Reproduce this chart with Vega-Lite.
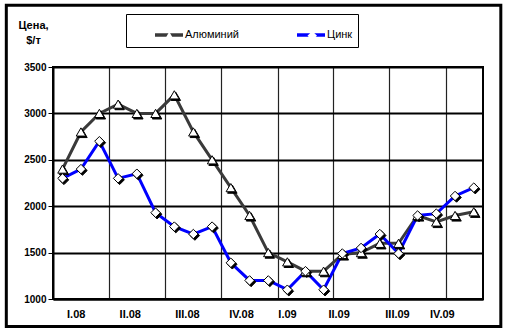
{
  "$schema": "https://vega.github.io/schema/vega-lite/v6.json",
  "width": 430,
  "height": 232,
  "autosize": {"type": "none"},
  "padding": {"left": 53, "top": 67, "right": 26, "bottom": 34},
  "background": "white",
  "config": {
    "font": "Liberation Sans",
    "view": {"stroke": "black", "strokeWidth": 2}
  },
  "data": {
    "values": [
      {"date": "2008-01-15", "metal": "Алюминий", "price": 2400},
      {"date": "2008-02-15", "metal": "Алюминий", "price": 2800},
      {"date": "2008-03-15", "metal": "Алюминий", "price": 3000},
      {"date": "2008-04-15", "metal": "Алюминий", "price": 3100},
      {"date": "2008-05-15", "metal": "Алюминий", "price": 3000},
      {"date": "2008-06-15", "metal": "Алюминий", "price": 3000},
      {"date": "2008-07-15", "metal": "Алюминий", "price": 3200},
      {"date": "2008-08-15", "metal": "Алюминий", "price": 2800},
      {"date": "2008-09-15", "metal": "Алюминий", "price": 2500},
      {"date": "2008-10-15", "metal": "Алюминий", "price": 2200},
      {"date": "2008-11-15", "metal": "Алюминий", "price": 1900},
      {"date": "2008-12-15", "metal": "Алюминий", "price": 1500},
      {"date": "2009-01-15", "metal": "Алюминий", "price": 1400},
      {"date": "2009-02-15", "metal": "Алюминий", "price": 1300},
      {"date": "2009-03-15", "metal": "Алюминий", "price": 1300},
      {"date": "2009-04-15", "metal": "Алюминий", "price": 1480},
      {"date": "2009-05-15", "metal": "Алюминий", "price": 1500},
      {"date": "2009-06-15", "metal": "Алюминий", "price": 1600},
      {"date": "2009-07-15", "metal": "Алюминий", "price": 1600},
      {"date": "2009-08-15", "metal": "Алюминий", "price": 1900},
      {"date": "2009-09-15", "metal": "Алюминий", "price": 1830},
      {"date": "2009-10-15", "metal": "Алюминий", "price": 1900},
      {"date": "2009-11-15", "metal": "Алюминий", "price": 1940},
      {"date": "2008-01-15", "metal": "Цинк", "price": 2300},
      {"date": "2008-02-15", "metal": "Цинк", "price": 2400},
      {"date": "2008-03-15", "metal": "Цинк", "price": 2700},
      {"date": "2008-04-15", "metal": "Цинк", "price": 2300},
      {"date": "2008-05-15", "metal": "Цинк", "price": 2350},
      {"date": "2008-06-15", "metal": "Цинк", "price": 1930},
      {"date": "2008-07-15", "metal": "Цинк", "price": 1780},
      {"date": "2008-08-15", "metal": "Цинк", "price": 1700},
      {"date": "2008-09-15", "metal": "Цинк", "price": 1780},
      {"date": "2008-10-15", "metal": "Цинк", "price": 1390},
      {"date": "2008-11-15", "metal": "Цинк", "price": 1200},
      {"date": "2008-12-15", "metal": "Цинк", "price": 1200},
      {"date": "2009-01-15", "metal": "Цинк", "price": 1100},
      {"date": "2009-02-15", "metal": "Цинк", "price": 1300},
      {"date": "2009-03-15", "metal": "Цинк", "price": 1100},
      {"date": "2009-04-15", "metal": "Цинк", "price": 1490},
      {"date": "2009-05-15", "metal": "Цинк", "price": 1550},
      {"date": "2009-06-15", "metal": "Цинк", "price": 1700},
      {"date": "2009-07-15", "metal": "Цинк", "price": 1490},
      {"date": "2009-08-15", "metal": "Цинк", "price": 1900},
      {"date": "2009-09-15", "metal": "Цинк", "price": 1920},
      {"date": "2009-10-15", "metal": "Цинк", "price": 2110},
      {"date": "2009-11-15", "metal": "Цинк", "price": 2200}
    ]
  },
  "layer": [
    {
      "data": {"values": [{}]},
      "mark": {"type": "rect", "filled": false, "stroke": "black", "strokeWidth": 3},
      "encoding": {
        "x": {"datum": {"year": 2007, "month": 10, "date": 17}, "type": "temporal", "axis": null},
        "x2": {"datum": {"year": 2009, "month": 12, "date": 30}},
        "y": {"datum": 704, "type": "quantitative", "axis": null},
        "y2": {"datum": 4165}
      }
    },
    {
      "mark": {"type": "line", "strokeWidth": 3},
      "encoding": {
        "x": {
          "field": "date", "type": "temporal", "timeUnit": "yearmonth", "bandPosition": 0.5,
          "scale": {"domain": [{"year": 2008, "month": 1, "date": 1}, {"year": 2009, "month": 12, "date": 1}]},
          "axis": {
            "orient": "bottom", "title": null, "labels": false, "ticks": false,
            "domain": true, "domainColor": "black", "domainWidth": 2,
            "grid": true, "gridColor": "#222222", "gridWidth": 1.2,
            "values": [
              {"year": 2008, "month": 4, "date": 1}, {"year": 2008, "month": 7, "date": 1},
              {"year": 2008, "month": 10, "date": 1}, {"year": 2009, "month": 1, "date": 1},
              {"year": 2009, "month": 4, "date": 1}, {"year": 2009, "month": 7, "date": 1},
              {"year": 2009, "month": 10, "date": 1}
            ]
          }
        },
        "y": {
          "field": "price", "type": "quantitative",
          "scale": {"domain": [1000, 3500], "nice": false, "zero": false},
          "axis": {
            "orient": "left", "format": "d",
            "title": ["Цена,", "$/т"], "titleAngle": 0, "titleAlign": "center", "titleBaseline": "alphabetic",
            "titleX": -20, "titleY": -39, "titleFontSize": 11, "titleFontWeight": "bold", "titleColor": "black",
            "titleLineHeight": 15, "titleFont": "Liberation Sans",
            "values": [1000, 1500, 2000, 2500, 3000, 3500],
            "grid": true, "gridColor": "black", "gridWidth": 2,
            "domainColor": "black", "domainWidth": 2,
            "tickColor": "black", "tickSize": 5, "tickWidth": 1,
            "labelFontSize": 10, "labelFontWeight": "bold", "labelColor": "black", "labelPadding": 2,
            "labelFont": "Liberation Sans"
          }
        },
        "color": {
          "field": "metal", "type": "nominal",
          "scale": {"domain": ["Алюминий", "Цинк"], "range": ["#3a3a3a", "#0000ff"]},
          "legend": {
            "title": null, "orient": "none", "legendX": 73, "legendY": -53, "direction": "horizontal",
            "strokeColor": "black", "padding": 5,
            "symbolType": "stroke", "symbolSize": 784, "symbolStrokeWidth": 3.5, "symbolOffset": 22, "labelOffset": 0,
            "columnPadding": 34, "labelFontSize": 11, "labelColor": "black", "labelFont": "Liberation Sans",
            "labelExpr": "datum.label == 'Цинк' ? datum.label + '\u00a0\u00a0\u00a0\u00a0\u00a0\u00a0\u00a0' : datum.label"
          }
        }
      }
    },
    {
      "transform": [{"filter": "datum.metal == 'Алюминий'"}],
      "mark": {"type": "point", "shape": "triangle-up", "filled": true, "fill": "black", "stroke": "black", "strokeWidth": 1, "opacity": 1, "xOffset": 1.5, "yOffset": 1.5, "size": 90},
      "encoding": {
        "x": {"field": "date", "type": "temporal", "timeUnit": "yearmonth", "bandPosition": 0.5, "axis": null},
        "y": {"field": "price", "type": "quantitative", "axis": null}
      }
    },
    {
      "transform": [{"filter": "datum.metal == 'Цинк'"}],
      "mark": {"type": "point", "shape": "diamond", "filled": true, "fill": "black", "stroke": "black", "strokeWidth": 1, "opacity": 1, "xOffset": 1.5, "yOffset": 1.5, "size": 90},
      "encoding": {
        "x": {"field": "date", "type": "temporal", "timeUnit": "yearmonth", "bandPosition": 0.5, "axis": null},
        "y": {"field": "price", "type": "quantitative", "axis": null}
      }
    },
    {
      "mark": {"type": "point", "filled": true, "fill": "white", "stroke": "black", "strokeWidth": 1, "opacity": 1},
      "encoding": {
        "x": {
          "field": "date", "type": "temporal", "timeUnit": "yearmonth", "bandPosition": 0.5,
          "axis": {
            "orient": "bottom", "title": null, "grid": false, "ticks": false, "domain": false,
            "labelFlush": false, "labelOverlap": false,
            "values": [
              {"year": 2008, "month": 2, "date": 7}, {"year": 2008, "month": 5, "date": 5},
              {"year": 2008, "month": 8, "date": 6}, {"year": 2008, "month": 11, "date": 2},
              {"year": 2009, "month": 1, "date": 16}, {"year": 2009, "month": 4, "date": 10},
              {"year": 2009, "month": 7, "date": 14}, {"year": 2009, "month": 9, "date": 25}
            ],
            "labelExpr": "['I', 'II', 'III', 'IV'][quarter(time(datum.value) + 864000000) - 1] + '.' + timeFormat(datum.value, '%y')",
            "labelFontSize": 11, "labelFontWeight": "bold", "labelColor": "black", "labelPadding": 9,
            "labelFont": "Liberation Sans"
          }
        },
        "y": {"field": "price", "type": "quantitative", "axis": null},
        "shape": {
          "field": "metal", "type": "nominal",
          "scale": {"range": ["triangle-up", "diamond"]},
          "legend": {
            "title": null, "orient": "none", "legendX": 73, "legendY": -42.25, "direction": "horizontal",
            "padding": 5, "symbolSize": 90, "symbolStrokeWidth": 1, "symbolStrokeColor": "black", "symbolFillColor": "white",
            "symbolOffset": 32.75, "labelOffset": 10.75, "columnPadding": 34,
            "labelFontSize": 11, "labelOpacity": 0, "labelFont": "Liberation Sans"
          }
        },
        "size": {"value": 90}
      }
    }
  ],
  "resolve": {"axis": {"x": "independent", "y": "independent"}}
}
